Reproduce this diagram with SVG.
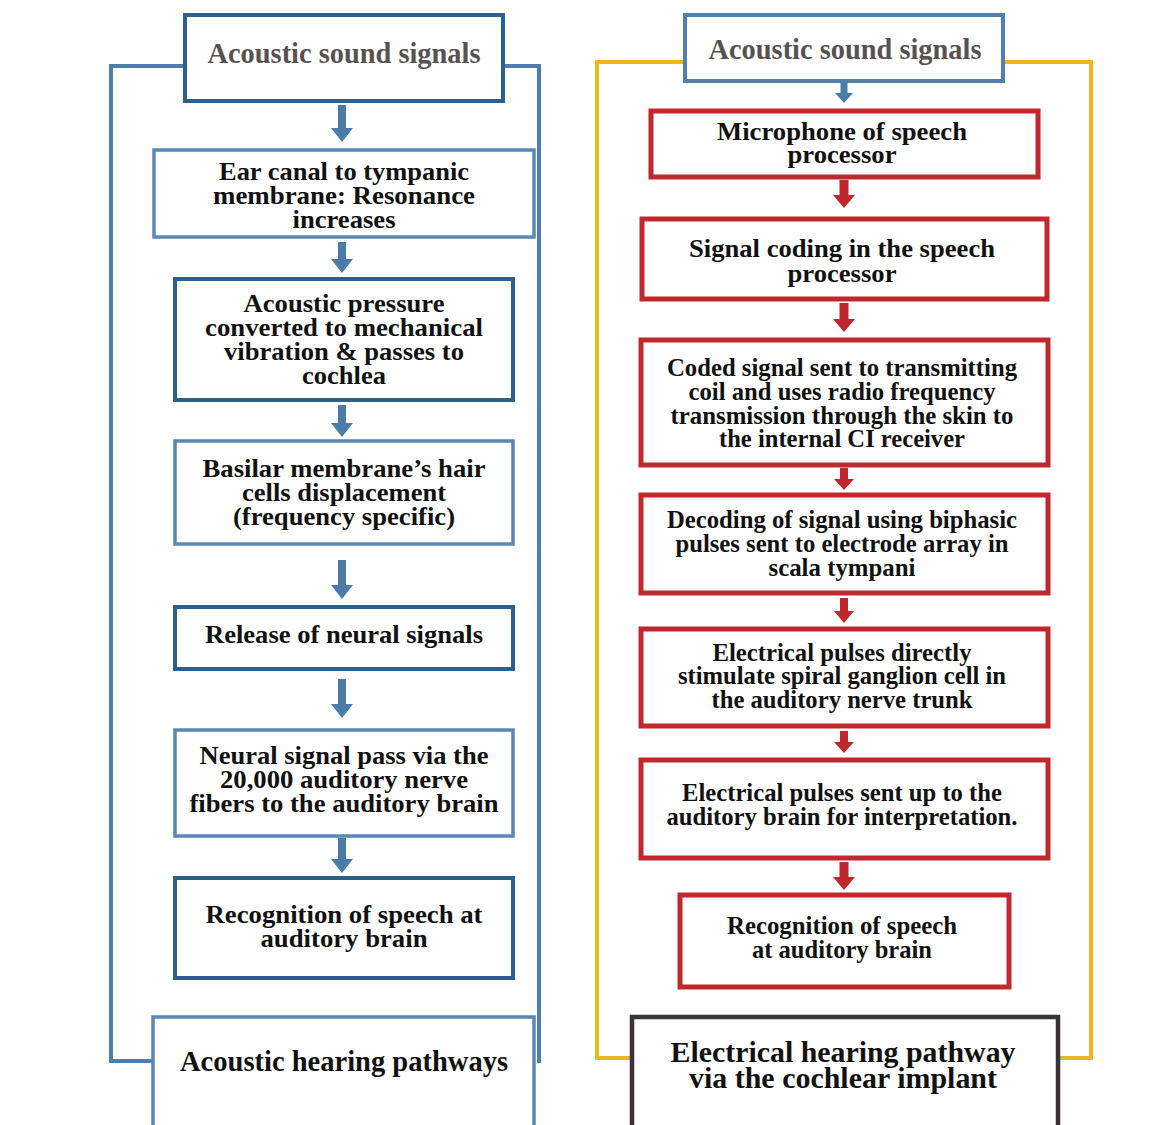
<svg xmlns="http://www.w3.org/2000/svg" width="1158" height="1125" viewBox="0 0 1158 1125">
  <style>
    .t { font-family: "Liberation Serif", "Times New Roman", serif; font-weight: bold; font-size: 26px; fill: #111111; text-anchor: middle; }
    .hd { fill: #575252; font-size: 29px; }
    .big { font-size: 29px; }
    .sm { font-size: 25px; }
    .box { fill: #ffffff; }
    .dk { stroke: #2e5f89; stroke-width: 4; }
    .lt { stroke: #5a88b4; stroke-width: 3.5; }
    .rd { stroke: #c0282e; stroke-width: 5; }
    .bl { stroke: #4f80ac; stroke-width: 4; }
    .ch { stroke: #3a3333; stroke-width: 4.5; }
    .frameL { fill: none; stroke: #4f7eab; stroke-width: 4; }
    .frameR { fill: none; stroke: #e8b722; stroke-width: 4; }
    .arB { fill: #4a7ca8; }
    .arR { fill: #c0282e; }
  </style>

  <rect width="1158" height="1125" fill="#ffffff"/>

  <!-- outer frames of the two pathways -->
  <g id="frames">
    <polyline class="frameL" points="152,1061 111,1061 111,66 539,66 539,1063"/>
    <polyline class="frameR" points="632,1058 597,1058 597,62 1091,62 1091,1058 1058,1058"/>
  </g>

  <!-- downward block arrows -->
  <g id="connectors">
    <path class="arB" d="M338,105 H346 V128 H353 L342,142 L331,128 H338 Z"/>
    <path class="arB" d="M338,242 H346 V259 H353 L342,273 L331,259 H338 Z"/>
    <path class="arB" d="M338,405 H346 V423 H353 L342,437 L331,423 H338 Z"/>
    <path class="arB" d="M338,560 H346 V585 H353 L342,599 L331,585 H338 Z"/>
    <path class="arB" d="M338,679 H346 V704 H353 L342,718 L331,704 H338 Z"/>
    <path class="arB" d="M338,838 H346 V859 H353 L342,873 L331,859 H338 Z"/>

    <path class="arB" d="M840.5,82 H847.5 V93 H853 L844,103 L835,93 H840.5 Z"/>
    <path class="arR" d="M839.5,180 H848.5 V195 H855 L844,208 L833,195 H839.5 Z"/>
    <path class="arR" d="M839.5,303 H848.5 V319 H855 L844,332 L833,319 H839.5 Z"/>
    <path class="arR" d="M840,468 H848 V479 H854 L844,490 L834,479 H840 Z"/>
    <path class="arR" d="M840,598 H848 V611 H854 L844,623 L834,611 H840 Z"/>
    <path class="arR" d="M840,731 H848 V742 H854 L844,753 L834,742 H840 Z"/>
    <path class="arR" d="M839.5,862 H848.5 V877 H855 L844,890 L833,877 H839.5 Z"/>
  </g>

  <!-- acoustic pathway -->
  <g id="acoustic-signals-left">
    <rect class="box dk" x="185" y="15" width="318" height="86"/>
    <text class="t hd" x="344" y="63" textLength="273" lengthAdjust="spacingAndGlyphs">Acoustic sound signals</text>
  </g>
  <g id="ear-canal">
    <rect class="box lt" x="154" y="150" width="380" height="87"/>
    <text class="t" x="344" y="180" textLength="250" lengthAdjust="spacingAndGlyphs">Ear canal to tympanic</text>
    <text class="t" x="344" y="204" textLength="262" lengthAdjust="spacingAndGlyphs">membrane: Resonance</text>
    <text class="t" x="344" y="228" textLength="103" lengthAdjust="spacingAndGlyphs">increases</text>
  </g>
  <g id="acoustic-pressure">
    <rect class="box dk" x="175" y="279" width="338" height="121"/>
    <text class="t" x="344" y="312" textLength="201" lengthAdjust="spacingAndGlyphs">Acoustic pressure</text>
    <text class="t" x="344" y="336" textLength="278" lengthAdjust="spacingAndGlyphs">converted to mechanical</text>
    <text class="t" x="344" y="360" textLength="240" lengthAdjust="spacingAndGlyphs">vibration &amp; passes to</text>
    <text class="t" x="344" y="384" textLength="84" lengthAdjust="spacingAndGlyphs">cochlea</text>
  </g>
  <g id="basilar-membrane">
    <rect class="box lt" x="175" y="441" width="338" height="103"/>
    <text class="t" x="344" y="477" textLength="283" lengthAdjust="spacingAndGlyphs">Basilar membrane’s hair</text>
    <text class="t" x="344" y="501" textLength="204" lengthAdjust="spacingAndGlyphs">cells displacement</text>
    <text class="t" x="344" y="525" textLength="222" lengthAdjust="spacingAndGlyphs">(frequency specific)</text>
  </g>
  <g id="neural-release">
    <rect class="box dk" x="175" y="607" width="338" height="62"/>
    <text class="t" x="344" y="643" textLength="278" lengthAdjust="spacingAndGlyphs">Release of neural signals</text>
  </g>
  <g id="nerve-fibers">
    <rect class="box lt" x="175" y="730" width="338" height="106"/>
    <text class="t" x="344" y="764" textLength="289" lengthAdjust="spacingAndGlyphs">Neural signal pass via the</text>
    <text class="t" x="344" y="788" textLength="248" lengthAdjust="spacingAndGlyphs">20,000 auditory nerve</text>
    <text class="t" x="344" y="812" textLength="309" lengthAdjust="spacingAndGlyphs">fibers to the auditory brain</text>
  </g>
  <g id="recognition-left">
    <rect class="box dk" x="175" y="878" width="338" height="100"/>
    <text class="t" x="344" y="923" textLength="277" lengthAdjust="spacingAndGlyphs">Recognition of speech at</text>
    <text class="t" x="344" y="947" textLength="167" lengthAdjust="spacingAndGlyphs">auditory brain</text>
  </g>
  <g id="acoustic-title">
    <rect class="box lt" x="153" y="1017" width="381" height="130"/>
    <text class="t big" x="344" y="1071" textLength="328" lengthAdjust="spacingAndGlyphs">Acoustic hearing pathways</text>
  </g>

  <!-- electrical (cochlear implant) pathway -->
  <g id="acoustic-signals-right">
    <rect class="box bl" x="685" y="15" width="318" height="66"/>
    <text class="t hd" x="845" y="59" textLength="273" lengthAdjust="spacingAndGlyphs">Acoustic sound signals</text>
  </g>
  <g id="microphone">
    <rect class="box rd" x="651" y="111" width="387" height="66"/>
    <text class="t" x="842" y="140" textLength="250" lengthAdjust="spacingAndGlyphs">Microphone of speech</text>
    <text class="t" x="842" y="163" textLength="109" lengthAdjust="spacingAndGlyphs">processor</text>
  </g>
  <g id="signal-coding">
    <rect class="box rd" x="642" y="219" width="405" height="80"/>
    <text class="t" x="842" y="257" textLength="306" lengthAdjust="spacingAndGlyphs">Signal coding in the speech</text>
    <text class="t" x="842" y="282" textLength="109" lengthAdjust="spacingAndGlyphs">processor</text>
  </g>
  <g id="rf-transmission">
    <rect class="box rd" x="641" y="340" width="407" height="125"/>
    <text class="t sm" x="842" y="376" textLength="350" lengthAdjust="spacingAndGlyphs">Coded signal sent to transmitting</text>
    <text class="t sm" x="842" y="400" textLength="307" lengthAdjust="spacingAndGlyphs">coil and uses radio frequency</text>
    <text class="t sm" x="842" y="424" textLength="343" lengthAdjust="spacingAndGlyphs">transmission through the skin to</text>
    <text class="t sm" x="842" y="447" textLength="246" lengthAdjust="spacingAndGlyphs">the internal CI receiver</text>
  </g>
  <g id="decoding">
    <rect class="box rd" x="641" y="495" width="407" height="98"/>
    <text class="t sm" x="842" y="528" textLength="350" lengthAdjust="spacingAndGlyphs">Decoding of signal using biphasic</text>
    <text class="t sm" x="842" y="552" textLength="333" lengthAdjust="spacingAndGlyphs">pulses sent to electrode array in</text>
    <text class="t sm" x="842" y="576" textLength="147" lengthAdjust="spacingAndGlyphs">scala tympani</text>
  </g>
  <g id="ganglion-stimulation">
    <rect class="box rd" x="641" y="629" width="407" height="97"/>
    <text class="t sm" x="842" y="661" textLength="259" lengthAdjust="spacingAndGlyphs">Electrical pulses directly</text>
    <text class="t sm" x="842" y="684" textLength="328" lengthAdjust="spacingAndGlyphs">stimulate spiral ganglion cell in</text>
    <text class="t sm" x="842" y="708" textLength="261" lengthAdjust="spacingAndGlyphs">the auditory nerve trunk</text>
  </g>
  <g id="pulses-to-brain">
    <rect class="box rd" x="641" y="760" width="407" height="98"/>
    <text class="t sm" x="842" y="801" textLength="320" lengthAdjust="spacingAndGlyphs">Electrical pulses sent up to the</text>
    <text class="t sm" x="842" y="825" textLength="351" lengthAdjust="spacingAndGlyphs">auditory brain for interpretation.</text>
  </g>
  <g id="recognition-right">
    <rect class="box rd" x="680" y="895" width="329" height="92"/>
    <text class="t sm" x="842" y="934" textLength="230" lengthAdjust="spacingAndGlyphs">Recognition of speech</text>
    <text class="t sm" x="842" y="958" textLength="180" lengthAdjust="spacingAndGlyphs">at auditory brain</text>
  </g>
  <g id="electrical-title">
    <rect class="box ch" x="632" y="1017" width="426" height="130"/>
    <text class="t big" x="843" y="1062" textLength="345" lengthAdjust="spacingAndGlyphs">Electrical hearing pathway</text>
    <text class="t big" x="843" y="1088" textLength="308" lengthAdjust="spacingAndGlyphs">via the cochlear implant</text>
  </g>
</svg>
